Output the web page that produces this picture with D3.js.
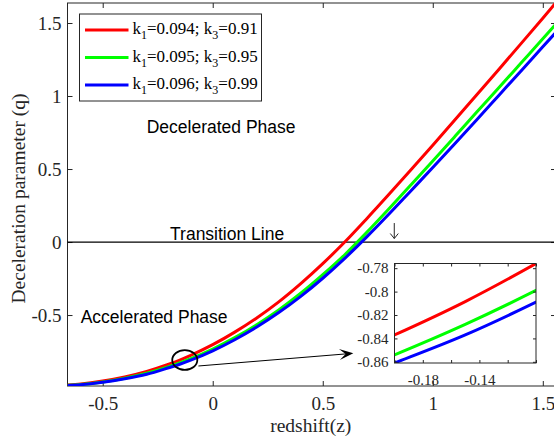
<!DOCTYPE html>
<html>
<head>
<meta charset="utf-8">
<script src="https://cdn.jsdelivr.net/npm/d3@7/dist/d3.min.js"></script>
<style>
    body { margin: 0; background: #fff; }
    svg { display: block; }
    .tick text { font-family: "Liberation Serif", "Times New Roman", serif; fill: #262626; }
    .tick line { stroke: #262626; }
</style>
</head>
<body>
<svg id="chart" width="554" height="444"></svg>
<script>
// redshift grid and deceleration parameter for each parameter set
var redshift = [-0.66, -0.6, -0.5, -0.4, -0.3, -0.2, -0.15, -0.1, 0, 0.1, 0.2, 0.3, 0.4, 0.5,
    0.6, 0.7, 0.8, 0.9, 1.0, 1.1, 1.2, 1.3, 1.4, 1.5, 1.56];
var q_red = [-0.979, -0.972, -0.952, -0.924, -0.886, -0.837, -0.8085, -0.776, -0.703, -0.617, -0.52, -0.41, -0.285, -0.148,
    0.0, 0.16, 0.325, 0.493, 0.663, 0.835, 1.008, 1.182, 1.357, 1.533, 1.64];
var q_green = [-0.981, -0.975, -0.958, -0.933, -0.899, -0.854, -0.828, -0.799, -0.733, -0.655, -0.566, -0.465, -0.351, -0.224,
    -0.087, 0.066, 0.226, 0.39, 0.555, 0.722, 0.89, 1.056, 1.224, 1.392, 1.493];
var q_blue = [-0.982, -0.977, -0.961, -0.937, -0.906, -0.861, -0.837, -0.809, -0.745, -0.669, -0.582, -0.483, -0.372, -0.248,
    -0.112, 0.035, 0.19, 0.35, 0.51, 0.673, 0.838, 1.004, 1.17, 1.337, 1.437];

var k1_values = ["0.094", "0.095", "0.096"];
var k3_values = ["0.91", "0.95", "0.99"];
var line_colors = ["#ff0000", "#00ff00", "#0000ff"];

var x_ticks = [-0.5, 0, 0.5, 1, 1.5];
var y_ticks = [-0.5, 0, 0.5, 1, 1.5];
var inset_x_ticks = [-0.2, -0.18, -0.16, -0.14, -0.12, -0.1];
var inset_x_labels = [-0.18, -0.14];
var inset_y_ticks = [-0.86, -0.84, -0.82, -0.8, -0.78];

var series = [q_red, q_green, q_blue].map(function (vals, i) {
    return {
        color: line_colors[i],
        k1: k1_values[i],
        k3: k3_values[i],
        points: vals.map(function (v, j) { return { z: redshift[j], q: v }; })
    };
});

var svg = d3.select("#chart");
var serif = "'Liberation Serif', 'Times New Roman', serif";
var sans = "'Liberation Sans', Arial, sans-serif";

// main axes
var box = { left: 67.5, top: 3, right: 556, bottom: 386 };
var x = d3.scaleLinear().domain([-0.66, 1.56]).range([box.left, box.right]);
var y = d3.scaleLinear().domain([-0.986, 1.637]).range([box.bottom, box.top]);

var fmt = function (d) { return String(d); };

svg.append("clipPath").attr("id", "mainclip")
    .append("rect")
    .attr("x", box.left).attr("y", box.top)
    .attr("width", box.right - box.left).attr("height", box.bottom - box.top);

svg.append("g")
    .attr("transform", "translate(0," + box.bottom + ")")
    .call(d3.axisBottom(x).tickValues(x_ticks).tickFormat(fmt).tickSize(-5).tickPadding(11))
    .call(function (g) { g.select(".domain").remove(); })
    .selectAll("text").style("font-size", "19px");

svg.append("g")
    .attr("transform", "translate(0," + box.top + ")")
    .call(d3.axisTop(x).tickValues(x_ticks).tickFormat("").tickSize(-5))
    .call(function (g) { g.select(".domain").remove(); });

svg.append("g")
    .attr("transform", "translate(" + box.left + ",0)")
    .call(d3.axisLeft(y).tickValues(y_ticks).tickFormat(fmt).tickSize(-5).tickPadding(6))
    .call(function (g) { g.select(".domain").remove(); })
    .selectAll("text").style("font-size", "19px");

svg.append("g")
    .attr("transform", "translate(" + box.right + ",0)")
    .call(d3.axisRight(y).tickValues(y_ticks).tickFormat("").tickSize(-5))
    .call(function (g) { g.select(".domain").remove(); });

svg.append("rect")
    .attr("x", box.left).attr("y", box.top)
    .attr("width", box.right - box.left).attr("height", box.bottom - box.top)
    .attr("fill", "none").attr("stroke", "#262626").attr("stroke-width", 1);

// axis titles
svg.append("text")
    .attr("x", (box.left + box.right) / 2 - 1).attr("y", 432)
    .attr("text-anchor", "middle")
    .style("font-family", serif).style("font-size", "19.5px").style("fill", "#262626")
    .text("redshift(z)");

svg.append("text")
    .attr("transform", "translate(25," + ((box.top + box.bottom) / 2 + 4) + ") rotate(-90)")
    .attr("text-anchor", "middle")
    .style("font-family", serif).style("font-size", "19.5px").style("fill", "#262626")
    .text("Deceleration parameter (q)");

// transition line q = 0
svg.append("line")
    .attr("x1", box.left).attr("x2", box.right)
    .attr("y1", y(0)).attr("y2", y(0))
    .attr("stroke", "#000").attr("stroke-width", 1.3);

var line = d3.line()
    .x(function (d) { return x(d.z); })
    .y(function (d) { return y(d.q); })
    .curve(d3.curveMonotoneX);

svg.append("g").attr("clip-path", "url(#mainclip)")
    .selectAll("path").data(series)
    .enter().append("path")
    .attr("d", function (d) { return line(d.points); })
    .attr("fill", "none")
    .attr("stroke", function (d) { return d.color; })
    .attr("stroke-width", 3);

// phase labels
var phase_labels = [
    { z: -0.30, q: 0.749, text: "Decelerated Phase" },
    { z: -0.60, q: -0.557, text: "Accelerated Phase" },
    { z: -0.194, q: 0.017, text: "Transition Line" }
];
svg.selectAll("text.phase").data(phase_labels)
    .enter().append("text")
    .attr("class", "phase")
    .attr("x", function (d) { return x(d.z); })
    .attr("y", function (d) { return y(d.q); })
    .style("font-family", sans).style("font-size", "17.5px").style("fill", "#000")
    .text(function (d) { return d.text; });

// small down arrow above the transition line
var dn_x = x(0.825), dn_top = y(0.13), dn_tip = y(0.024);
svg.append("path")
    .attr("d", "M" + dn_x + "," + dn_top + " L" + dn_x + "," + dn_tip +
        " M" + (dn_x - 4) + "," + (dn_tip - 5) + " L" + dn_x + "," + dn_tip + " L" + (dn_x + 4) + "," + (dn_tip - 5))
    .attr("fill", "none").attr("stroke", "#262626").attr("stroke-width", 1);

// zoom marker and arrow to the inset
svg.append("ellipse")
    .attr("cx", x(-0.127)).attr("cy", y(-0.808))
    .attr("rx", x(-0.127 + 0.057) - x(-0.127))
    .attr("ry", y(-0.808) - y(-0.808 + 0.068))
    .attr("fill", "none").attr("stroke", "#000").attr("stroke-width", 1.8);

var a0 = [x(-0.065), y(-0.849)], a1 = [x(0.639), y(-0.762)];
var ang = Math.atan2(a1[1] - a0[1], a1[0] - a0[0]);
var head_len = 14, head_w = 11;
svg.append("line")
    .attr("x1", a0[0]).attr("y1", a0[1])
    .attr("x2", a1[0] - Math.cos(ang) * head_len * 0.5)
    .attr("y2", a1[1] - Math.sin(ang) * head_len * 0.5)
    .attr("stroke", "#000").attr("stroke-width", 1);
svg.append("path")
    .attr("transform", "translate(" + a1[0] + "," + a1[1] + ") rotate(" + (ang * 180 / Math.PI) + ")")
    .attr("d", "M0,0 L" + (-head_len) + "," + (-head_w / 2) + " L" + (-head_len * 0.55) + ",0 L" + (-head_len) + "," + (head_w / 2) + "Z")
    .attr("fill", "#000");

// legend
var legend = svg.append("g");
legend.append("rect")
    .attr("x", 79.5).attr("y", 14)
    .attr("width", 182).attr("height", 87)
    .attr("fill", "#fff").attr("stroke", "#262626").attr("stroke-width", 1);

var entry = legend.selectAll("g.entry").data(series)
    .enter().append("g")
    .attr("class", "entry")
    .attr("transform", function (d, i) { return "translate(0," + (30 + i * 27.5) + ")"; });

entry.append("line")
    .attr("x1", 85).attr("x2", 128.5)
    .attr("stroke", function (d) { return d.color; })
    .attr("stroke-width", 3);

var lt = entry.append("text")
    .attr("x", 132.5).attr("y", 4)
    .style("font-family", serif).style("font-size", "17px").style("fill", "#000");
lt.append("tspan").text("k");
lt.append("tspan").attr("dy", 5).style("font-size", "12px").text("1");
lt.append("tspan").attr("dy", -5).text(function (d) { return "=" + d.k1 + "; k"; });
lt.append("tspan").attr("dy", 5).style("font-size", "12px").text("3");
lt.append("tspan").attr("dy", -5).text(function (d) { return "=" + d.k3; });

// inset axes
var ib = { left: 394.5, top: 263.5, right: 536, bottom: 363 };
var ix = d3.scaleLinear().domain([-0.2, -0.1]).range([ib.left, ib.right]);
var iy = d3.scaleLinear().domain([-0.861, -0.776]).range([ib.bottom, ib.top]);

svg.append("clipPath").attr("id", "insetclip")
    .append("rect")
    .attr("x", ib.left).attr("y", ib.top)
    .attr("width", ib.right - ib.left).attr("height", ib.bottom - ib.top);

svg.append("rect")
    .attr("x", ib.left).attr("y", ib.top)
    .attr("width", ib.right - ib.left).attr("height", ib.bottom - ib.top)
    .attr("fill", "#fff");

var iline = d3.line()
    .x(function (d) { return ix(d.z); })
    .y(function (d) { return iy(d.q); })
    .curve(d3.curveMonotoneX);

svg.append("g").attr("clip-path", "url(#insetclip)")
    .selectAll("path").data(series)
    .enter().append("path")
    .attr("d", function (d) { return iline(d.points); })
    .attr("fill", "none")
    .attr("stroke", function (d) { return d.color; })
    .attr("stroke-width", 3);

var ifmt = function (d) {
    var hit = inset_x_labels.some(function (v) { return Math.abs(v - d) < 1e-9; });
    return hit ? String(d) : "";
};

svg.append("g")
    .attr("transform", "translate(0," + ib.bottom + ")")
    .call(d3.axisBottom(ix).tickValues(inset_x_ticks).tickFormat(ifmt).tickSize(-3).tickPadding(11))
    .call(function (g) { g.select(".domain").remove(); })
    .selectAll("text").style("font-size", "15px");

svg.append("g")
    .attr("transform", "translate(0," + ib.top + ")")
    .call(d3.axisTop(ix).tickValues(inset_x_ticks).tickFormat("").tickSize(-3))
    .call(function (g) { g.select(".domain").remove(); });

svg.append("g")
    .attr("transform", "translate(" + ib.left + ",0)")
    .call(d3.axisLeft(iy).tickValues(inset_y_ticks).tickFormat(fmt).tickSize(-3).tickPadding(6))
    .call(function (g) { g.select(".domain").remove(); })
    .selectAll("text").style("font-size", "15px");

svg.append("g")
    .attr("transform", "translate(" + ib.right + ",0)")
    .call(d3.axisRight(iy).tickValues(inset_y_ticks).tickFormat("").tickSize(-3))
    .call(function (g) { g.select(".domain").remove(); });

svg.append("rect")
    .attr("x", ib.left).attr("y", ib.top)
    .attr("width", ib.right - ib.left).attr("height", ib.bottom - ib.top)
    .attr("fill", "none").attr("stroke", "#262626").attr("stroke-width", 1);
</script>
</body>
</html>
